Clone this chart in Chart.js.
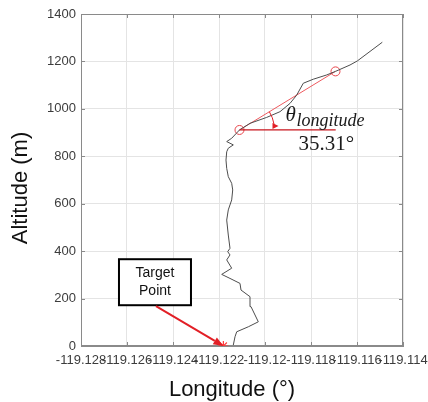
<!DOCTYPE html>
<html>
<head>
<meta charset="utf-8">
<script src="https://cdn.jsdelivr.net/npm/chart.js@4.4.1/dist/chart.umd.min.js"></script>
<style>
  body { margin: 0; background: #fff; }
</style>
</head>
<body>
<canvas id="myChart" width="428" height="402"></canvas>
<script>
// axis ticks
const lonTicks = [-119.128, -119.126, -119.124, -119.122, -119.12, -119.118, -119.116, -119.114];
const lonTickLabels = ["-119.128", "-119.126", "-119.124", "-119.122", "-119.12", "-119.118", "-119.116", "-119.114"];
const altTicks = [0, 200, 400, 600, 800, 1000, 1200, 1400];

// flight track (longitude, altitude in m)
const trackLon = [-119.121378, -119.121304, -119.121230, -119.120726, -119.120291, -119.120609, -119.120652,
  -119.121043, -119.121087, -119.121522, -119.121883, -119.121448, -119.121665, -119.121522, -119.121622,
  -119.121522, -119.121596, -119.121665, -119.121596, -119.121448, -119.121404, -119.121448, -119.121596,
  -119.121665, -119.121696, -119.121665, -119.121596, -119.121378, -119.121665, -119.121448, -119.121109,
  -119.120652, -119.119926, -119.119348, -119.118913, -119.118622, -119.118335, -119.117900, -119.117317,
  -119.116935, -119.116304, -119.115987, -119.114900];
const trackAlt = [4, 39, 60, 81, 102, 166, 208, 236, 264, 285, 302, 328, 363, 384, 398, 412, 468, 531, 574,
  616, 658, 686, 714, 749, 784, 819, 834, 848, 862, 876, 911, 939, 964, 988, 1023, 1058, 1108, 1125, 1143,
  1158, 1185, 1202, 1281];

// glide segment used for the angle
const segLon = [-119.121109, -119.116935];
const segAlt = [911, 1158];
const refLon = [-119.121109, -119.116926];
const refAlt = [911, 911];
const angleLabel = "35.31°";

// target point and its label anchor
const targetLon = [-119.12181];
const targetAlt = [0];
const labelLon = -119.12474;
const labelAlt = 172;

const red = "#e21f26";

function pts(xs, ys) {
  return xs.map((v, i) => ({ x: v, y: ys[i] }));
}

// box outline + inward tick marks
const frame = {
  id: "frame",
  beforeDatasetsDraw(chart) {
    const { ctx, chartArea: a, scales: { x, y } } = chart;
    ctx.save();
    ctx.strokeStyle = "#8a8a8a";
    ctx.lineWidth = 1;
    ctx.strokeRect(a.left + 0.5, a.top + 0.5, a.right - a.left - 1, a.bottom - a.top - 1);
    ctx.beginPath();
    lonTicks.forEach(v => {
      const px = Math.round(x.getPixelForValue(v)) + 0.5;
      ctx.moveTo(px, a.top); ctx.lineTo(px, a.top + 4);
      ctx.moveTo(px, a.bottom); ctx.lineTo(px, a.bottom - 4);
    });
    altTicks.forEach(v => {
      const py = Math.round(y.getPixelForValue(v)) + 0.5;
      ctx.moveTo(a.left, py); ctx.lineTo(a.left + 4, py);
      ctx.moveTo(a.right, py); ctx.lineTo(a.right - 4, py);
    });
    ctx.stroke();
    ctx.restore();
  }
};

// angle arc, labels, target callout, axis titles
const notes = {
  id: "notes",
  afterDatasetsDraw(chart) {
    const { ctx, scales: { x, y } } = chart;
    const p0 = { x: x.getPixelForValue(segLon[0]), y: y.getPixelForValue(segAlt[0]) };
    const p1 = { x: x.getPixelForValue(segLon[1]), y: y.getPixelForValue(segAlt[1]) };
    const ang = Math.atan2(p1.y - p0.y, p1.x - p0.x);
    const r = 35;
    ctx.save();

    // angle arc with arrowhead
    ctx.strokeStyle = red;
    ctx.fillStyle = red;
    ctx.lineWidth = 1;
    ctx.beginPath();
    ctx.arc(p0.x, p0.y, r, ang, -0.17);
    ctx.stroke();
    const tx = p0.x + r - 2, ty = p0.y - 7;
    ctx.beginPath();
    ctx.moveTo(tx, ty);
    ctx.lineTo(tx + 6, ty + 3);
    ctx.lineTo(tx, ty + 6);
    ctx.closePath();
    ctx.fill();

    // theta label
    ctx.fillStyle = "#1a1a1a";
    ctx.textBaseline = "alphabetic";
    ctx.textAlign = "left";
    ctx.font = "italic 21px 'Liberation Serif'";
    ctx.fillText("θ", p0.x + 46, p0.y - 9);
    ctx.font = "italic 18px 'Liberation Serif'";
    ctx.fillText("longitude", p0.x + 57, p0.y - 4);
    ctx.font = "21px 'Liberation Serif'";
    ctx.fillText(angleLabel, p0.x + 59, p0.y + 20);

    // target callout
    const tail = { x: x.getPixelForValue(labelLon), y: y.getPixelForValue(labelAlt) };
    const head = { x: x.getPixelForValue(targetLon[0]), y: y.getPixelForValue(targetAlt[0]) };
    const bw = 72, bh = 46;
    ctx.fillStyle = "#fff";
    ctx.fillRect(tail.x - 37, tail.y - bh, bw, bh);
    ctx.strokeStyle = "#000";
    ctx.lineWidth = 2;
    ctx.strokeRect(tail.x - 37, tail.y - bh, bw, bh);
    ctx.fillStyle = "#111";
    ctx.font = "14px 'Liberation Sans'";
    ctx.textAlign = "center";
    ctx.textBaseline = "middle";
    ctx.fillText("Target", tail.x - 1, tail.y - 32);
    ctx.fillText("Point", tail.x - 1, tail.y - 14);

    const da = Math.atan2(head.y - tail.y, head.x - tail.x);
    const hl = 10, hw = 4;
    const bx = head.x - hl * Math.cos(da), by = head.y - hl * Math.sin(da);
    ctx.strokeStyle = red;
    ctx.fillStyle = red;
    ctx.lineWidth = 2;
    ctx.beginPath();
    ctx.moveTo(tail.x, tail.y + 1);
    ctx.lineTo(bx, by);
    ctx.stroke();
    ctx.beginPath();
    ctx.moveTo(head.x, head.y);
    ctx.lineTo(bx + hw * Math.sin(da), by - hw * Math.cos(da));
    ctx.lineTo(bx - hw * Math.sin(da), by + hw * Math.cos(da));
    ctx.closePath();
    ctx.fill();

    // axis titles
    ctx.fillStyle = "#111";
    ctx.font = "22px 'Liberation Sans'";
    ctx.textAlign = "center";
    ctx.textBaseline = "alphabetic";
    ctx.fillText("Longitude (°)", 232, 396);
    ctx.translate(27, 188);
    ctx.rotate(-Math.PI / 2);
    ctx.fillText("Altitude (m)", 0, 0);
    ctx.restore();
  }
};

new Chart("myChart", {
  type: "scatter",
  data: {
    datasets: [
      {
        data: pts(refLon, refAlt),
        showLine: true,
        borderColor: "#c8141c",
        borderWidth: 1.2,
        pointRadius: 0
      },
      {
        data: pts(trackLon, trackAlt),
        showLine: true,
        borderColor: "#4d4d4d",
        borderWidth: 1,
        pointRadius: 0,
        tension: 0
      },
      {
        data: pts(segLon, segAlt),
        showLine: true,
        borderColor: "#ee5a5f",
        borderWidth: 1,
        pointRadius: 4.5,
        pointBorderColor: "#e8454b",
        pointBackgroundColor: "rgba(0,0,0,0)",
        pointBorderWidth: 1
      },
      {
        data: pts(targetLon, targetAlt),
        pointStyle: "star",
        pointRadius: 5,
        pointBorderColor: "#ff3b3b",
        pointBorderWidth: 1.2
      }
    ]
  },
  options: {
    responsive: false,
    devicePixelRatio: 1,
    animation: false,
    layout: { padding: { left: 0, top: 14, right: 25, bottom: 0 } },
    plugins: { legend: { display: false }, tooltip: { enabled: false } },
    scales: {
      x: {
        type: "linear",
        min: lonTicks[0],
        max: lonTicks[lonTicks.length - 1],
        afterBuildTicks(scale) {
          scale.ticks = lonTicks.map(v => ({ value: v }));
        },
        afterFit(scale) {
          scale.height = 56;
          scale.paddingLeft = 0;
          scale.paddingRight = 0;
        },
        grid: { color: "#e4e4e4", drawTicks: false },
        border: { color: "#8a8a8a" },
        ticks: {
          autoSkip: false,
          maxRotation: 0,
          minRotation: 0,
          padding: 7,
          color: "#3c3c3c",
          font: { family: "'Liberation Sans'", size: 13 },
          callback: (v, i) => lonTickLabels[i]
        }
      },
      y: {
        min: altTicks[0],
        max: altTicks[altTicks.length - 1],
        afterBuildTicks(scale) {
          scale.ticks = altTicks.map(v => ({ value: v }));
        },
        afterFit(scale) {
          scale.width = 81;
          scale.paddingTop = 0;
          scale.paddingBottom = 0;
        },
        grid: { color: "#e4e4e4", drawTicks: false },
        border: { color: "#8a8a8a" },
        ticks: {
          padding: 5,
          color: "#3c3c3c",
          font: { family: "'Liberation Sans'", size: 13 },
          callback: v => String(v)
        }
      }
    }
  },
  plugins: [frame, notes]
});
</script>
</body>
</html>
